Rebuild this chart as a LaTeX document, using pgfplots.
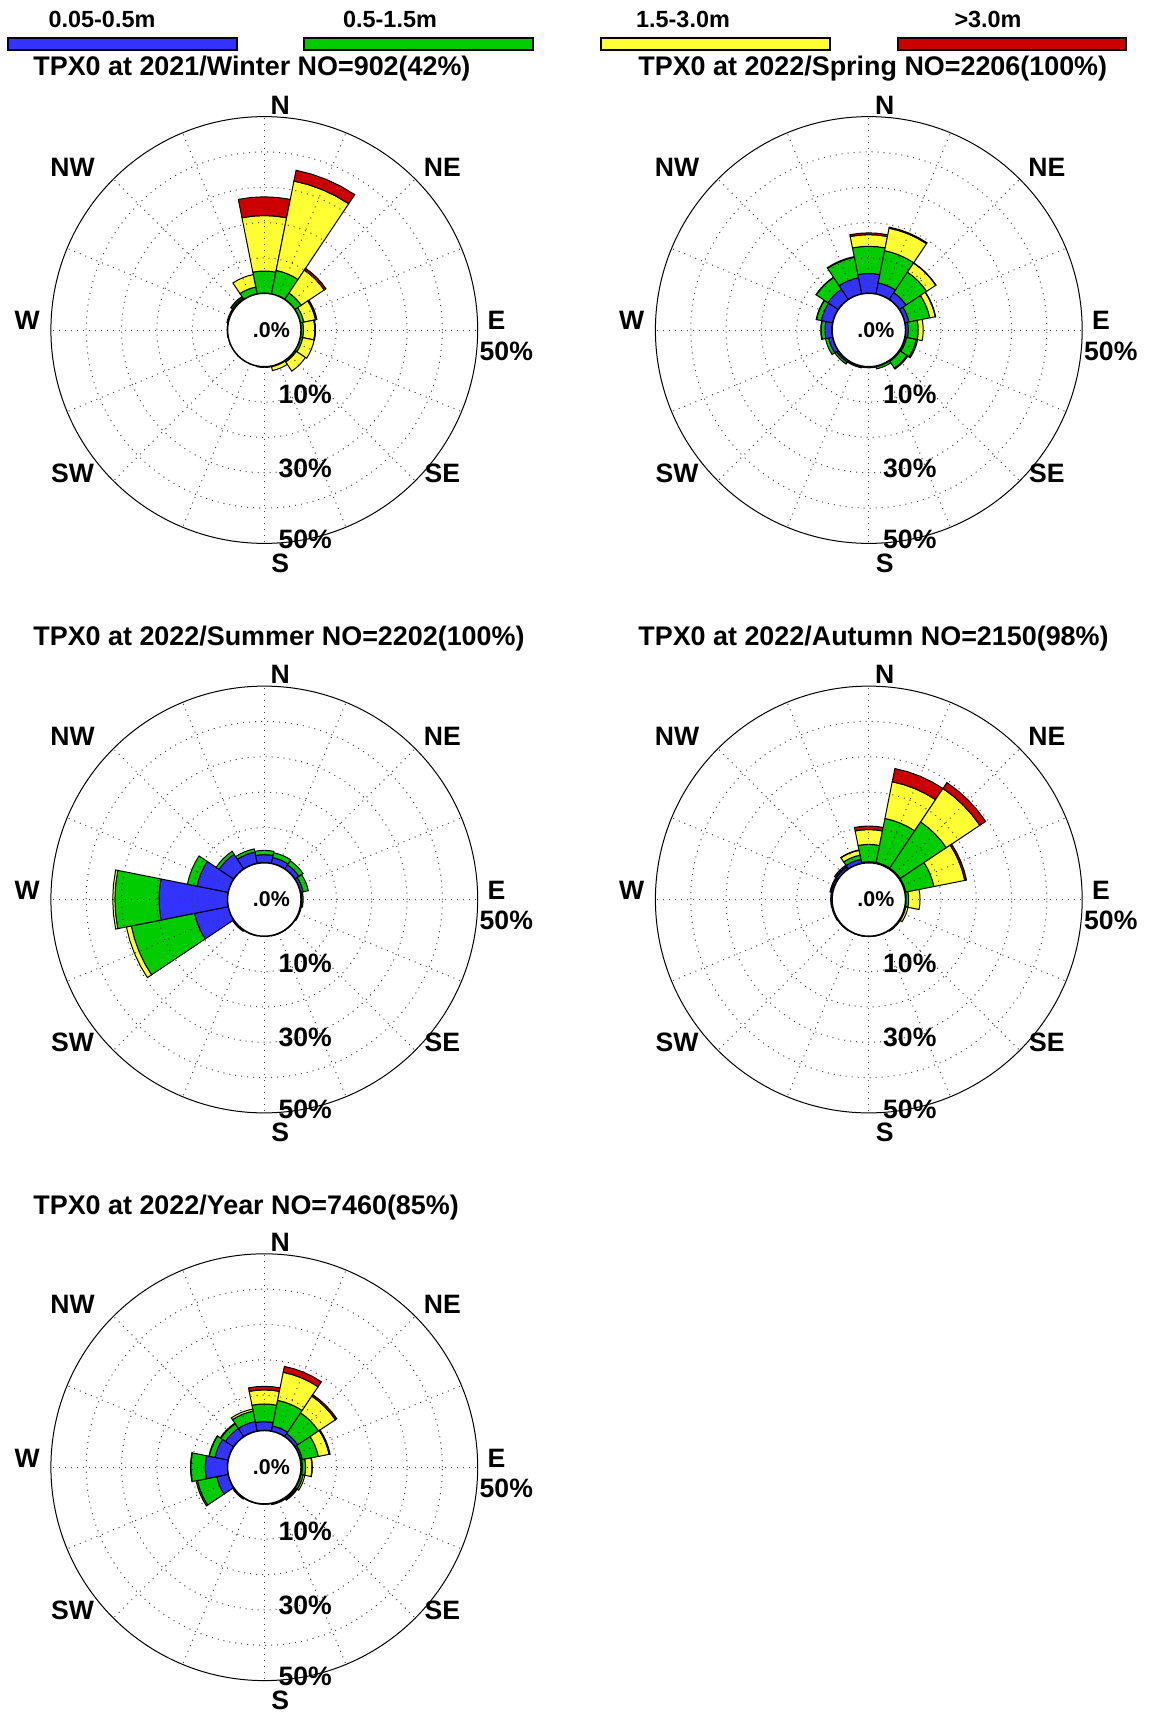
\documentclass[border=0pt]{standalone}
\usepackage{fontspec}
\setmainfont{Liberation Sans}
\usepackage{pgfplots}
\usepackage{pgfplotstable}
\pgfplotsset{compat=1.18}

\definecolor{col1}{HTML}{3333FF}
\definecolor{col2}{HTML}{00CC00}
\definecolor{col3}{HTML}{FFFF33}
\definecolor{col4}{HTML}{CC0000}

\newcommand{\lab}{\fontsize{13.3}{14}\selectfont\bfseries}
\newcommand{\ttl}{\fontsize{13.45}{14}\selectfont\bfseries}
\newcommand{\leg}{\fontsize{11.7}{13}\selectfont\bfseries}
\newcommand{\ctr}{\fontsize{10.7}{12}\selectfont\bfseries}

% cumulative percentages per direction (N, NNE, ... NNW):
% c1 = 0.05-0.5m, c2 = +0.5-1.5m, c3 = +1.5-3.0m, c4 = +>3.0m
\pgfplotstableread{
dir c1 c2 c3 c4
N   0   6.3 22.0 27.3
NNE 0   6.8 32.6 35.7
NE  0   2.2 10.0 10.6
ENE 0   1.0 4.4  4.8
E   0   0.7 3.9  4.1
ESE 0   0.7 4.0  4.0
SE  0   0.5 3.6  3.6
SSE 0   0.2 1.3  1.3
S   0   0.2 0.2  0.2
SSW 0   0   0    0
SW  0   0   0    0
WSW 0   0   0    0
W   0   0.1 0.1  0.1
WNW 0.1 0.4 0.4  0.4
NW  0.4 0.9 1.0  1.0
NNW 0   2.0 5.6  5.6
}\winter

\pgfplotstableread{
dir c1 c2 c3 c4
N   5.6 13.3 16.6 17.1
NNE 3.2 12.5 19.0 19.3
NE  2.3 9.3  12.4 12.5
ENE 1.2 7.2  8.8  8.9
E   0.8 3.6  5.0  5.0
ESE 0.5 3.3  3.7  3.7
SE  0.3 2.6  2.9  2.9
SSE 0.2 0.8  0.8  0.8
S   0.1 0.3  0.3  0.3
SSW 0.2 0.5  0.5  0.5
SW  0.6 1.2  1.2  1.2
WSW 1.2 2.1  2.1  2.1
W   2.0 3.1  3.2  3.2
WNW 3.3 4.7  4.8  4.8
NW  3.5 7.5  7.6  7.6
NNW 4.7 10.6 10.8 10.8
}\spring

\pgfplotstableread{
dir c1 c2 c3 c4
N   2.3  3.5  3.5  3.5
NNE 1.7  3.1  3.1  3.1
NE  1.4  2.8  2.8  2.8
ENE 0.8  2.3  2.3  2.3
E   0.2  0.6  0.6  0.6
ESE 0.1  0.3  0.3  0.3
SE  0.1  0.1  0.1  0.1
SSE 0.1  0.1  0.1  0.1
S   0    0    0    0
SSW 0.1  0.1  0.1  0.1
SW  0.4  0.4  0.4  0.4
WSW 9.7  28.0 29.4 29.4
W   19.4 31.9 32.5 32.5
WNW 9.0  11.8 11.8 11.8
NW  5.0  6.0  6.0  6.0
NNW 3.3  4.2  4.2  4.2
}\summer

\pgfplotstableread{
dir c1 c2 c3 c4
N   0.3 5.2  9.4  10.4
NNE 0.3 13.0 23.6 27.4
NE  0.3 16.0 27.4 29.4
ENE 0.3 8.4  17.3 17.8
E   0.2 0.9  4.1  4.1
ESE 0.1 0.3  0.9  0.9
SE  0.1 0.2  0.3  0.3
SSE 0.1 0.1  0.1  0.1
S   0.1 0.1  0.1  0.1
SSW 0.1 0.1  0.1  0.1
SW  0.2 0.2  0.2  0.2
WSW 0.3 0.3  0.3  0.3
W   0.4 0.4  0.4  0.4
WNW 0.5 0.6  0.8  0.8
NW  0.7 0.9  1.3  1.3
NNW 1.2 2.4  3.8  3.9
}\autumn

\pgfplotstableread{
dir c1 c2 c3 c4
N   2.5 7.5  11.5 12.5
NNE 1.5 8.9  17.0 18.7
NE  1.0 8.1  13.8 14.3
ENE 0.6 5.2  8.3  8.6
E   0.4 1.3  3.1  3.2
ESE 0.2 0.8  1.3  1.3
SE  0.2 0.5  0.8  0.8
SSE 0.1 0.3  0.4  0.4
S   0.1 0.1  0.1  0.1
SSW 0.1 0.1  0.1  0.1
SW  0.3 0.4  0.4  0.4
WSW 3.3 8.9  9.3  9.3
W   6.3 10.4 10.5 10.5
WNW 3.8 5.5  5.6  5.6
NW  2.8 4.4  4.6  4.6
NNW 2.8 5.8  6.4  6.4
}\year

% hole radius 10.4 (axis units = percent), outer ring at 50%
\newcommand{\sect}[2]{%
  \pgfplotstablegetelem{\i}{c#2}\of{#1}%
  \let\pout\pgfplotsretval
  \pgfmathtruncatemacro\ok{\pout>\pin}%
  \ifnum\ok=1
    \pgfmathsetmacro\ri{10.4+\pin}%
    \pgfmathsetmacro\ro{10.4+\pout}%
    \edef\doit{\noexpand\addplot[fill=col#2,draw=black,line width=0.5pt,data cs=polar]
      coordinates {(\az,\ri) (\az,\ro) (\aa,\ro) (\ab,\ro) (\ac,\ro) (\ad,\ro)
                   (\ad,\ri) (\ac,\ri) (\ab,\ri) (\aa,\ri)} --cycle;}%
    \doit
  \fi
  \let\pin\pout
}

\newcommand{\drawrose}[1]{%
  \pgfplotsforeachungrouped \i in {0,...,15}{%
    \pgfmathsetmacro\az{90-22.5*\i+11.25}%
    \pgfmathsetmacro\aa{\az-5.625}%
    \pgfmathsetmacro\ab{\az-11.25}%
    \pgfmathsetmacro\ac{\az-16.875}%
    \pgfmathsetmacro\ad{\az-22.5}%
    \def\pin{0}%
    \sect{#1}{1}\sect{#1}{2}\sect{#1}{3}\sect{#1}{4}%
  }%
  \pgfplotsinvokeforeach{20.4,30.4,40.4,50.4}{%
    \draw[griddot] (axis cs:0,0) circle[radius=##1];}%
  \pgfplotsinvokeforeach{0,...,15}{%
    \draw[griddot] (axis cs:{10.4*cos(##1*22.5)},{10.4*sin(##1*22.5)})
      -- (axis cs:{60.4*cos(##1*22.5)},{60.4*sin(##1*22.5)});}%
  \draw[line width=0.5pt] (axis cs:0,0) circle[radius=60.4];
  \draw[fill=white, line width=0.75pt] (axis cs:0,0) circle[radius=10.4];
  \node[font=\ctr, inner sep=0] at (axis cs:2.0,0) {.0\%};
  \node[font=\lab, inner sep=0] at (axis cs:4.5,63.7) {N};
  \node[font=\lab, inner sep=0] at (axis cs:4.5,-66.0) {S};
  \node[font=\lab, inner sep=0] at (axis cs:65.7,2.6) {E};
  \node[font=\lab, inner sep=0] at (axis cs:-67.1,2.6) {W};
  \node[font=\lab, inner sep=0] at (axis cs:50.4,46.1) {NE};
  \node[font=\lab, inner sep=0] at (axis cs:-54.3,46.1) {NW};
  \node[font=\lab, inner sep=0] at (axis cs:50.4,-40.5) {SE};
  \node[font=\lab, inner sep=0] at (axis cs:-54.3,-40.5) {SW};
  \node[font=\lab, inner sep=0] at (axis cs:11.6,-18.1) {10\%};
  \node[font=\lab, inner sep=0] at (axis cs:11.6,-39.1) {30\%};
  \node[font=\lab, inner sep=0] at (axis cs:11.6,-59.3) {50\%};
  \node[font=\lab, inner sep=0] at (axis cs:68.5,-5.9) {50\%};
}

\pgfplotsset{
  rose/.style={hide axis, clip=false, anchor=center,
    x=1.7665pt, y=1.7665pt,
    xmin=-60.4, xmax=60.4, ymin=-60.4, ymax=60.4},
}
\tikzset{griddot/.style={black!75, line width=0.5pt, dash pattern=on 0.5pt off 2.5pt}}

\begin{document}
\begin{tikzpicture}
\path[use as bounding box] (0,0) rectangle (575.5pt,-856.5pt);

\begin{scope}[x=0.5pt,y=-0.5pt]
  \draw[fill=col1, line width=1pt] (7.6,38) rectangle (237,50);
  \draw[fill=col2, line width=1pt] (304,38) rectangle (533,50);
  \draw[fill=col3, line width=1pt] (601,38) rectangle (830,50);
  \draw[fill=col4, line width=1pt] (898,38) rectangle (1126,50);
  \node[anchor=base, font=\leg, inner sep=0] at (102,27) {0.05-0.5m};
  \node[anchor=base, font=\leg, inner sep=0] at (390,27) {0.5-1.5m};
  \node[anchor=base, font=\leg, inner sep=0] at (683,27) {1.5-3.0m};
  \node[anchor=base, font=\leg, inner sep=0] at (988,27) {>3.0m};
  \node[anchor=base west, font=\ttl, inner sep=0] at (33,75) {TPX0 at 2021/Winter NO=902(42\%)};
  \node[anchor=base west, font=\ttl, inner sep=0] at (638,75) {TPX0 at 2022/Spring NO=2206(100\%)};
  \node[anchor=base west, font=\ttl, inner sep=0] at (33,645) {TPX0 at 2022/Summer NO=2202(100\%)};
  \node[anchor=base west, font=\ttl, inner sep=0] at (638,645) {TPX0 at 2022/Autumn NO=2150(98\%)};
  \node[anchor=base west, font=\ttl, inner sep=0] at (33,1214) {TPX0 at 2022/Year NO=7460(85\%)};
\end{scope}

\begin{axis}[rose, at={(132.15pt,-165pt)}]
\drawrose{\winter}
\end{axis}
\begin{axis}[rose, at={(434.4pt,-165pt)}]
\drawrose{\spring}
\end{axis}
\begin{axis}[rose, at={(132.15pt,-449.75pt)}]
\drawrose{\summer}
\end{axis}
\begin{axis}[rose, at={(434.4pt,-449.75pt)}]
\drawrose{\autumn}
\end{axis}
\begin{axis}[rose, at={(132.15pt,-733.6pt)}]
\drawrose{\year}
\end{axis}
\end{tikzpicture}
\end{document}
